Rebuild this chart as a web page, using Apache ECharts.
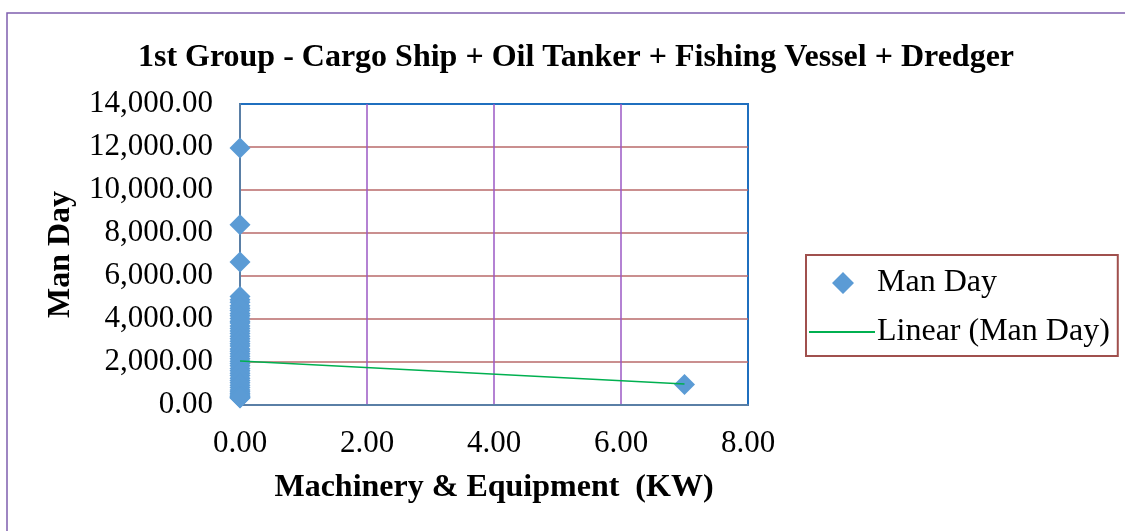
<!DOCTYPE html>
<html>
<head>
<meta charset="utf-8">
<script src="https://cdn.jsdelivr.net/npm/echarts@6/dist/echarts.min.js"></script>
<style>
  html, body { margin: 0; padding: 0; background: #fff; }
  #chart { width: 1125px; height: 531px; }
</style>
</head>
<body>
<div id="chart"></div>
<script>
// points: machinery (KW) vs man day
const machineryKW = [
  0, 0, 0, 0, 0, 0, 0, 0, 0, 0,
  0, 0, 0, 0, 0, 0, 0, 0, 0, 0,
  0, 0, 0, 0, 0, 0, 0, 0, 0, 0,
  0, 0, 0, 0, 0, 0, 0, 0, 0, 0,
  0, 0, 0, 0, 0, 0, 0, 0, 7
];
const manDay = [
  11950, 8380, 6650, 5050, 4900, 4780, 4620, 4500, 4390, 4260,
  4150, 4020, 3900, 3810, 3680, 3560, 3440, 3330, 3200, 3080,
  2960, 2850, 2740, 2610, 2500, 2380, 2270, 2150, 2040, 1930,
  1820, 1700, 1590, 1480, 1370, 1250, 1140, 1030, 920, 810,
  700, 620, 540, 470, 410, 370, 340, 320, 950
];
// linear trend end points
const trendX = [0, 7];
const trendY = [2050, 980];

const yTicks = { min: 0, max: 14000, interval: 2000 };
const xTicks = { min: 0, max: 8, interval: 2 };

const fmt = (v) => v.toLocaleString('en-US', { minimumFractionDigits: 2, maximumFractionDigits: 2 });
const serif = 'Liberation Serif, Times New Roman, serif';
// diamond centred in a 66x22 box (dots at corners keep the box from being squeezed)
const legendDiamond = 'path://M0,0L0.01,0M66,22L65.99,22M34,0L45,11L34,22L23,11Z';

const chart = echarts.init(document.getElementById('chart'));
chart.setOption({
  backgroundColor: '#fff',
  animation: false,
  title: {
    text: '1st Group - Cargo Ship + Oil Tanker + Fishing Vessel + Dredger',
    left: 571,
    top: 37,
    textAlign: 'center',
    textStyle: { fontFamily: serif, fontWeight: 'bold', fontSize: 32, color: '#000' }
  },
  grid: {
    left: 240, top: 104, width: 508, height: 301,
    show: true, borderColor: '#1F6FBF', borderWidth: 2, backgroundColor: 'transparent'
  },
  graphic: [{
    type: 'rect',
    shape: { x: 7, y: 13, width: 1130, height: 530 },
    style: { fill: 'none', stroke: '#7F5FAF', lineWidth: 1.5 },
    silent: true
  }],
  legend: {
    orient: 'vertical',
    left: 806, top: 255,
    padding: [12, 8, 8, 2],
    itemGap: 17,
    itemWidth: 66, itemHeight: 22,
    borderColor: '#A0504D', borderWidth: 2,
    textStyle: { fontFamily: serif, fontSize: 32, color: '#000', padding: [0, 0, 0, -3] },
    data: [
      { name: 'Man Day', icon: legendDiamond },
      { name: 'Linear (Man Day)', itemStyle: { color: 'rgba(0,0,0,0)', borderWidth: 0 } }
    ]
  },
  xAxis: {
    type: 'value',
    min: xTicks.min, max: xTicks.max, interval: xTicks.interval,
    name: 'Machinery & Equipment  (KW)',
    nameLocation: 'middle',
    nameGap: 67,
    nameTextStyle: { fontFamily: serif, fontWeight: 'bold', fontSize: 32, color: '#000' },
    axisLine: { lineStyle: { color: '#5A7FA6', width: 2 } },
    axisTick: { show: false },
    axisLabel: { fontFamily: serif, fontSize: 31, color: '#000', margin: 23, formatter: fmt },
    splitLine: { showMinLine: false, showMaxLine: false, lineStyle: { color: '#9B59C4', width: 1.5 } }
  },
  yAxis: {
    type: 'value',
    min: yTicks.min, max: yTicks.max, interval: yTicks.interval,
    name: 'Man Day',
    nameLocation: 'middle',
    nameGap: 179,
    nameTextStyle: { fontFamily: serif, fontWeight: 'bold', fontSize: 32, color: '#000', verticalAlign: 'middle' },
    axisLine: { show: true, lineStyle: { color: '#5A7FA6', width: 2 } },
    axisTick: { show: false },
    axisLabel: { fontFamily: serif, fontSize: 31, color: '#000', margin: 27, formatter: fmt },
    splitLine: { showMinLine: false, showMaxLine: false, lineStyle: { color: '#B86A6A', width: 1.5 } }
  },
  series: [
    {
      name: 'Man Day',
      type: 'scatter',
      symbol: 'diamond',
      symbolSize: 21,
      itemStyle: { color: '#5B9BD5', opacity: 1 },
      data: machineryKW.map((x, i) => [x, manDay[i]]),
      z: 3
    },
    {
      name: 'Linear (Man Day)',
      type: 'line',
      symbol: 'none',
      lineStyle: { color: '#00B050', width: 1.5 },
      itemStyle: { color: '#00B050' },
      data: trendX.map((x, i) => [x, trendY[i]]),
      z: 4
    }
  ]
});
</script>
</body>
</html>
